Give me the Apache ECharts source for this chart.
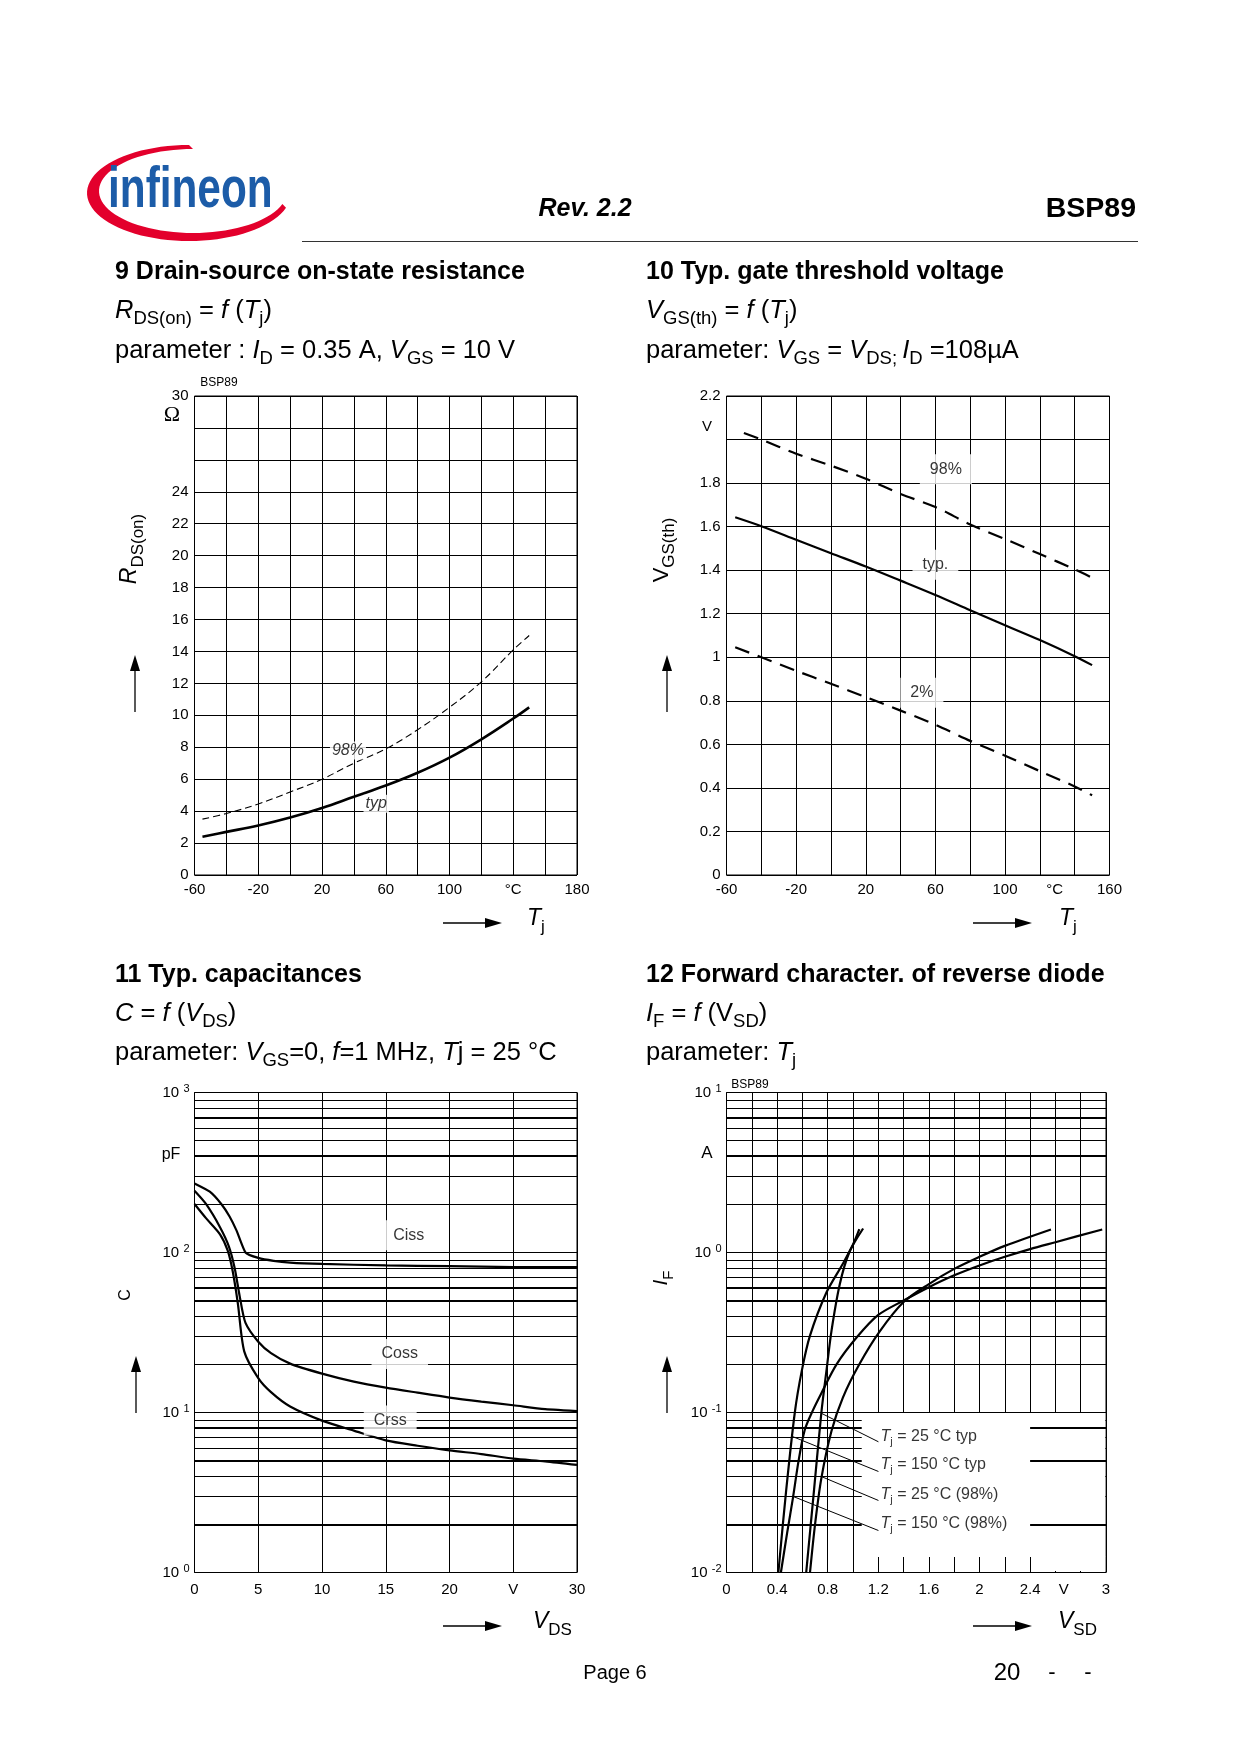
<!DOCTYPE html>
<html><head><meta charset="utf-8">
<script src="https://cdn.jsdelivr.net/npm/echarts@6.0.0/dist/echarts.min.js"></script>
<style>html,body{margin:0;padding:0;background:#fff;}#chart{width:1240px;height:1754px;}</style>
</head><body><div id="chart"></div>
<script>
// ================= DATA =================
// Fig 9  RDS(on) = f(Tj)
const rdsTemp = [-55, -40, -20, 0, 20, 40, 60, 80, 100, 120, 140, 150];
const rdsTyp  = [2.4, 2.7, 3.1, 3.6, 4.2, 4.9, 5.6, 6.4, 7.35, 8.5, 9.8, 10.5];
const rds98   = [3.5, 3.85, 4.45, 5.2, 6.0, 7.0, 7.9, 9.1, 10.5, 12.1, 14.1, 15.0];
const rdsXLabels = ['-60', '', '-20', '', '20', '', '60', '', '100', '', '°C', '', '180'];
const rdsYLabels = ['0', '2', '4', '6', '8', '10', '12', '14', '16', '18', '20', '22', '24', '', '', '30'];

// Fig 10  VGS(th) = f(Tj)
const vthTemp98 = [-50, -40, -20, 0, 20, 40, 60, 80, 100, 120, 140, 150];
const vth98     = [2.03, 2.0, 1.935, 1.88, 1.82, 1.75, 1.69, 1.61, 1.543, 1.474, 1.404, 1.365];
const vthTemp   = [-55, -40, -20, 0, 20, 40, 60, 80, 100, 120, 140, 150];
const vthTyp    = [1.643, 1.602, 1.54, 1.478, 1.417, 1.352, 1.286, 1.216, 1.147, 1.079, 1.005, 0.964];
const vth2      = [1.046, 1.0, 0.938, 0.878, 0.817, 0.755, 0.69, 0.616, 0.548, 0.477, 0.407, 0.366];
const vthXLabels = ['-60', '', '-20', '', '20', '', '60', '', '100', '', '{c|°C}', '160'];
const vthYLabels = ['0', '0.2', '0.4', '0.6', '0.8', '1', '1.2', '1.4', '1.6', '1.8', '', '2.2'];

// Fig 11  C = f(VDS)
const cissV = [0, 1.2, 2.1, 2.75, 3.3, 4.0, 5.0, 6.2, 7.5, 10, 15, 20, 25, 30];
const cissC = [270, 240, 201, 168, 137, 100, 92.5, 88.7, 86.5, 84.8, 83, 82.2, 81, 81];
const cossV = [0, 0.9, 2.0, 2.7, 3.15, 3.55, 4.0, 5.0, 6.0, 7.5, 10, 12.5, 15, 17.5, 20, 22.5, 25, 27.5, 30];
const cossC = [243, 201, 144, 109, 80, 53, 36.3, 27.7, 23.5, 20.2, 17.5, 15.6, 14.3, 13.3, 12.4, 11.7, 11.1, 10.5, 10.2];
const crssV = [0, 0.9, 2.0, 2.6, 3.0, 3.4, 3.9, 5.0, 6.0, 7.5, 10, 12.5, 15, 17.5, 20, 22.5, 25, 27.5, 30];
const crssC = [201, 164, 130, 103, 76, 48, 24.1, 16.4, 13.4, 10.9, 8.9, 7.7, 6.7, 6.2, 5.8, 5.5, 5.15, 4.95, 4.7];
const capXLabels = ['0', '5', '10', '15', '20', 'V', '30'];
const capMinor = [2, 3, 4, 5, 6, 7, 8, 9, 20, 30, 40, 50, 60, 70, 80, 90, 200, 300, 400, 500, 600, 700, 800, 900];
const capHeavy = [2, 5, 8, 50, 60, 400, 700];

// Fig 12  IF = f(VSD)
const if150TypV = [0.41, 0.47, 0.54, 0.595, 0.66, 0.79, 0.92, 1.0, 1.05];
const if150TypI = [0.01, 0.0316, 0.1, 0.182, 0.302, 0.562, 0.851, 1.122, 1.4];
const if25TypV  = [0.63, 0.69, 0.75, 0.79, 0.83, 0.895, 0.97, 1.08];
const if25TypI  = [0.01, 0.0316, 0.1, 0.182, 0.324, 0.631, 1.0, 1.413];
const if150MaxV = [0.43, 0.48, 0.526, 0.57, 0.618, 0.68, 0.75, 0.87, 1.03, 1.2, 1.4, 1.6, 1.8, 2.0, 2.2, 2.4, 2.6, 2.97];
const if150MaxI = [0.01, 0.0178, 0.0295, 0.05, 0.0776, 0.102, 0.132, 0.2, 0.295, 0.407, 0.501, 0.607, 0.72, 0.83, 0.94, 1.05, 1.16, 1.393];
const if25MaxV  = [0.66, 0.70, 0.75, 0.83, 0.92, 1.05, 1.21, 1.4, 1.6, 1.8, 2.0, 2.2, 2.565];
const if25MaxI  = [0.01, 0.02, 0.0389, 0.0767, 0.124, 0.2, 0.32, 0.49, 0.635, 0.79, 0.94, 1.10, 1.393];
const ifXLabels = ['0', '', '0.4', '', '0.8', '', '1.2', '', '1.6', '', '2', '', '2.4', '', '{c|V}', '3'];
const ifMinor = [0.02, 0.03, 0.04, 0.05, 0.06, 0.07, 0.08, 0.09, 0.2, 0.3, 0.4, 0.5, 0.6, 0.7, 0.8, 0.9, 2, 3, 4, 5, 6, 7, 8, 9];
const ifHeavy = [0.02, 0.05, 0.08, 0.5, 0.6, 4, 7];
const ifLegend = ['{i|T}{s|j}{n| = 25 °C typ}', '{i|T}{s|j}{n| = 150 °C typ}', '{i|T}{s|j}{n| = 25 °C (98%)}', '{i|T}{s|j}{n| = 150 °C (98%)}'];

// ================= HELPERS =================
const F = "'Liberation Sans', Arial, Helvetica, sans-serif";
const zip = (a, b) => a.map((x, i) => [x, b[i]]);
const idxFmt = (labels, min, step) => v => { const k = Math.round((v - min) / step); return labels[k] !== undefined ? labels[k] : ''; };
const expFmt = v => '{b|10 }{s|' + Math.round(Math.log10(v)) + '}';

function grid(left, top, width, height) {
  return { left, top, width, height, show: true, borderColor: '#000', borderWidth: 1, backgroundColor: 'transparent', outerBoundsMode: 'none', containLabel: false };
}
function axis(gi, extra, lbl) {
  return Object.assign({
    gridIndex: gi, type: 'value',
    axisLine: { show: false }, axisTick: { show: false },
    splitLine: { show: true, lineStyle: { color: '#000', width: 1 } },
    axisLabel: Object.assign({ color: '#000', fontSize: 15, fontFamily: F, margin: 7 }, lbl || {})
  }, extra);
}
const logLabel = { formatter: expFmt, margin: 5, rich: {
  b: { fontSize: 15, fontFamily: F, color: '#000', lineHeight: 18 },
  s: { fontSize: 11, fontFamily: F, color: '#000', lineHeight: 11, verticalAlign: 'top' } } };

function curve(gi, data, width, type, smooth, z) {
  return { type: 'line', xAxisIndex: gi, yAxisIndex: gi, data, symbol: 'none', smooth: smooth, z: z || 3, silent: true,
    lineStyle: { color: '#000', width: width, type: type || 'solid' } };
}
function labels(gi, items, lbl) {
  return { type: 'scatter', xAxisIndex: gi, yAxisIndex: gi, z: 10, symbolSize: 1, silent: true,
    itemStyle: { color: 'rgba(0,0,0,0)' },
    data: items.map(d => ({ value: [d[0], d[1]], name: d[2] })),
    label: Object.assign({ show: true, position: 'inside', formatter: p => p.name, color: '#000', fontFamily: F, fontSize: 16, backgroundColor: '#fff' }, lbl) };
}
function minorGrid(gi, vals, heavy) {
  return { type: 'line', xAxisIndex: gi, yAxisIndex: gi, data: [], silent: true, z: 1,
    markLine: { silent: true, symbol: 'none', z: 0.5, animation: false, label: { show: false },
      lineStyle: { color: '#000', width: 1, type: 'solid' },
      data: vals.map(v => ({ yAxis: v, lineStyle: { color: '#000', type: 'solid', width: heavy.indexOf(v) >= 0 ? 2 : 1 } })) } };
}

// ---------- page text ----------
function txt(x, y, text, size, o) {
  o = o || {};
  const sub = o.sub || Math.round(size * 0.72);
  const lh = size + 10;
  const fam = o.family || F;
  const base = { fontSize: size, fontFamily: fam, fill: o.color || '#000', fontWeight: o.bold ? 'bold' : 'normal', fontStyle: o.italic ? 'italic' : 'normal' };
  return { type: 'text', x, y, rotation: o.rot || 0, scaleX: o.scaleX || 1, z: 100,
    style: Object.assign({}, base, { text, align: o.align || 'left', verticalAlign: 'middle', lineHeight: lh,
      rich: {
        n: Object.assign({}, base, { lineHeight: lh }),
        i: Object.assign({}, base, { fontStyle: 'italic', lineHeight: lh }),
        s: Object.assign({}, base, { fontStyle: 'normal', fontSize: sub, lineHeight: sub, verticalAlign: 'bottom' })
      } }) };
}
function upArrow(x, tip, bottom) {
  return [
    { type: 'line', z: 100, shape: { x1: x, y1: bottom, x2: x, y2: tip + 8 }, style: { stroke: '#000', lineWidth: 1.3 } },
    { type: 'polygon', z: 100, shape: { points: [[x, tip], [x - 5, tip + 16], [x + 5, tip + 16]] }, style: { fill: '#000' } }
  ];
}
function rightArrow(x0, tip, y) {
  return [
    { type: 'line', z: 100, shape: { x1: x0, y1: y, x2: tip - 8, y2: y }, style: { stroke: '#000', lineWidth: 1.3 } },
    { type: 'polygon', z: 100, shape: { points: [[tip, y], [tip - 17, y - 5], [tip - 17, y + 5]] }, style: { fill: '#000' } }
  ];
}

const G = [];
// logo swoosh (decorative)
const sw = [];
for (let a = 270; a >= 18; a -= 4) { const r = a * Math.PI / 180; sw.push([189 + 102 * Math.cos(r), 193 + 48 * Math.sin(r)]); }
for (let a = 18; a <= 270; a += 4) { const r = a * Math.PI / 180; sw.push([193 + 94 * Math.cos(r), 191 + 42 * Math.sin(r)]); }
G.push({ type: 'polygon', z: 90, shape: { points: sw }, style: { fill: '#e3002c' } });
G.push(txt(108, 191, 'infineon', 58, { bold: true, color: '#1c5ca8', scaleX: 0.73 }));
G.push(txt(585, 209, 'Rev. 2.2', 25, { bold: true, italic: true, align: 'center' }));
G.push(txt(1136, 209, 'BSP89', 28.5, { bold: true, align: 'right' }));
G.push({ type: 'line', z: 100, shape: { x1: 302, y1: 241.5, x2: 1138, y2: 241.5 }, style: { stroke: '#333', lineWidth: 1 } });

// headings
const HS = 25.5, SS = 18.5;
G.push(txt(115, 272, '9 Drain-source on-state resistance', 25, { bold: true }));
G.push(txt(115, 311, '{i|R}{s|DS(on)}{n| = }{i|f}{n| (}{i|T}{s|j}{n|)}', HS, { sub: SS }));
G.push(txt(115, 351, '{n|parameter : }{i|I}{s|D}{n| = 0.35 A, }{i|V}{s|GS}{n| = 10 V}', HS, { sub: SS }));
G.push(txt(646, 272, '10 Typ. gate threshold voltage', 25, { bold: true }));
G.push(txt(646, 311, '{i|V}{s|GS(th)}{n| = }{i|f}{n| (}{i|T}{s|j}{n|)}', HS, { sub: SS }));
G.push(txt(646, 351, '{n|parameter: }{i|V}{s|GS}{n| = }{i|V}{s|DS; }{i|I}{s|D}{n| =108µA}', HS, { sub: SS }));
G.push(txt(115, 975, '11 Typ. capacitances', 25, { bold: true }));
G.push(txt(115, 1014, '{i|C}{n| = }{i|f}{n| (}{i|V}{s|DS}{n|)}', HS, { sub: SS }));
G.push(txt(115, 1053, '{n|parameter: }{i|V}{s|GS}{n|=0, }{i|f}{n|=1 MHz, }{i|T}{n|j = 25 °C}', HS, { sub: SS }));
G.push(txt(646, 975, '12 Forward character. of reverse diode', 25, { bold: true }));
G.push(txt(646, 1014, '{i|I}{s|F}{n| = }{i|f}{n| (V}{s|SD}{n|)}', HS, { sub: SS }));
G.push(txt(646, 1053, '{n|parameter: }{i|T}{s|j}', HS, { sub: SS }));

// chart 9 decorations
G.push(txt(219, 383, 'BSP89', 12, { align: 'center' }));
G.push(txt(172, 415, 'Ω', 22, { align: 'center', family: "'Liberation Serif', 'DejaVu Serif', serif" }));
G.push(txt(130, 549, '{i|R}{s|DS(on)}', 23, { align: 'center', rot: Math.PI / 2, sub: 17 }));
G.push(...upArrow(135, 655, 712));
G.push(...rightArrow(443, 502, 923));
G.push(txt(527, 919, '{i|T}{s|j}', 23, { sub: 17 }));
// chart 10 decorations
G.push(txt(707, 427, 'V', 15, { align: 'center' }));
G.push(txt(662, 550, '{n|V}{s|GS(th)}', 22, { align: 'center', rot: Math.PI / 2, sub: 17 }));
G.push(...upArrow(667, 655, 712));
G.push(...rightArrow(973, 1032, 923));
G.push(txt(1059, 919, '{i|T}{s|j}', 23, { sub: 17 }));
// chart 11 decorations
G.push(txt(171, 1155, 'pF', 16, { align: 'center' }));
G.push(txt(126, 1295, 'C', 16, { align: 'center', rot: Math.PI / 2 }));
G.push(...upArrow(136, 1356, 1413));
G.push(...rightArrow(443, 502, 1626));
G.push(txt(533, 1622, '{i|V}{s|DS}', 23, { sub: 17 }));
// chart 12 decorations
G.push(txt(750, 1085, 'BSP89', 12, { align: 'center' }));
G.push(txt(707, 1153, 'A', 17, { align: 'center' }));
G.push(txt(661, 1278, '{i|I}{s|F}', 21, { align: 'center', rot: Math.PI / 2, sub: 15 }));
G.push(...upArrow(667, 1356, 1413));
G.push(...rightArrow(973, 1032, 1626));
G.push(txt(1058, 1622, '{i|V}{s|SD}', 23, { sub: 17 }));
// footer
G.push(txt(615, 1673, 'Page 6', 20, { align: 'center' }));
G.push(txt(1007, 1673, '20', 24, { align: 'center' }));
G.push(txt(1052, 1673, '-', 22, { align: 'center' }));
G.push(txt(1088, 1673, '-', 22, { align: 'center' }));

// ================= OPTION =================
const legendRich = {
  n: { fontSize: 16, fontFamily: F, color: '#000', lineHeight: 22 },
  i: { fontSize: 16, fontFamily: F, fontStyle: 'italic', color: '#000', lineHeight: 22 },
  s: { fontSize: 11, fontFamily: F, color: '#000', lineHeight: 11, verticalAlign: 'bottom' }
};
const shiftRich = (pad) => ({ c: { fontSize: 15, fontFamily: F, color: '#000', padding: [0, pad, 0, 0] } });

const option = {
  animation: false,
  backgroundColor: '#fff',
  textStyle: { fontFamily: F },
  grid: [
    grid(194.5, 396, 382.5, 479),
    grid(726.5, 396, 383, 479),
    grid(194.5, 1092.5, 382.5, 480),
    grid(726.5, 1092.5, 379.5, 480)
  ],
  xAxis: [
    axis(0, { min: -60, max: 180, interval: 20 }, { formatter: idxFmt(rdsXLabels, -60, 20) }),
    axis(1, { min: -60, max: 160, interval: 20 }, { formatter: idxFmt(vthXLabels, -60, 20), rich: shiftRich(40) }),
    axis(2, { min: 0, max: 30, interval: 5 }, { formatter: idxFmt(capXLabels, 0, 5), margin: 10 }),
    axis(3, { min: 0, max: 3, interval: 0.2 }, { formatter: idxFmt(ifXLabels, 0, 0.2), margin: 10, rich: shiftRich(34) })
  ],
  yAxis: [
    axis(0, { min: 0, max: 30, interval: 2 }, { formatter: idxFmt(rdsYLabels, 0, 2), margin: 6 }),
    axis(1, { min: 0, max: 2.2, interval: 0.2 }, { formatter: idxFmt(vthYLabels, 0, 0.2), margin: 6 }),
    axis(2, { type: 'log', logBase: 10, min: 1, max: 1000 }, logLabel),
    axis(3, { type: 'log', logBase: 10, min: 0.01, max: 10 }, logLabel)
  ],
  series: [
    // chart 9
    curve(0, zip(rdsTemp, rdsTyp), 2.6, 'solid', 0.4),
    curve(0, zip(rdsTemp, rds98), 1.1, [7, 4], 0.4),
    labels(0, [[36.3, 7.8, '98%'], [54, 4.46, 'typ']], { fontStyle: 'italic', padding: [1, 2] }),
    // chart 10
    curve(1, zip(vthTemp98, vth98), 2.2, [15, 9], 0.3),
    curve(1, zip(vthTemp, vthTyp), 2.2, 'solid', 0.3),
    curve(1, zip(vthTemp, vth2), 2.2, [15, 9], 0.3),
    labels(1, [[66, 1.863, '98%'], [60, 1.425, 'typ.'], [52.2, 0.837, '2%']], { padding: [7, 10] }),
    // chart 11
    minorGrid(2, capMinor, capHeavy),
    curve(2, zip(cissV, cissC), 2.2, 'solid', 0.15),
    curve(2, zip(cossV, cossC), 2.2, 'solid', 0.25),
    curve(2, zip(crssV, crssC), 2.2, 'solid', 0.25),
    labels(2, [[16.8, 128, 'Ciss'], [16.1, 23.2, 'Coss'], [15.35, 8.9, 'Crss']], { padding: [7, 10] }),
    // chart 12
    Object.assign(minorGrid(3, ifMinor, ifHeavy), {
      markArea: { silent: true, z: 1, itemStyle: { color: '#fff' }, label: { show: false },
        data: [
          [{ coord: [1.069, 0.0125] }, { coord: [2.994, 0.0993] }],
          [{ coord: [2.42, 0.0102] }, { coord: [2.994, 0.0126] }]
        ] } }),
    { type: 'line', xAxisIndex: 3, yAxisIndex: 3, data: [], silent: true, z: 1,
      markLine: { silent: true, symbol: 'none', z: 1.5, label: { show: false }, lineStyle: { color: '#000', width: 2, type: 'solid' },
        data: [0.08, 0.05, 0.02].map(v => [{ coord: [2.4, v] }, { coord: [3, v] }]) } },
    curve(3, zip(if150TypV, if150TypI), 2.2, 'solid', 0.3),
    curve(3, zip(if25TypV, if25TypI), 2.2, 'solid', 0.3),
    curve(3, zip(if150MaxV, if150MaxI), 2.2, 'solid', 0.3),
    curve(3, zip(if25MaxV, if25MaxI), 2.2, 'solid', 0.3),
    curve(3, [[0.753, 0.0986], [1.201, 0.0656]], 1, 'solid', false),
    curve(3, [[0.521, 0.0708], [1.201, 0.0428]], 1, 'solid', false),
    curve(3, [[0.753, 0.0397], [1.201, 0.0282]], 1, 'solid', false),
    curve(3, [[0.521, 0.030], [1.201, 0.0183]], 1, 'solid', false),
    labels(3, [[1.214, 0.0708, ifLegend[0]], [1.214, 0.047, ifLegend[1]], [1.214, 0.0308, ifLegend[2]], [1.214, 0.0202, ifLegend[3]]],
      { position: 'right', distance: 0, backgroundColor: 'transparent', rich: legendRich })
  ],
  graphic: { elements: G }
};

const chart = echarts.init(document.getElementById('chart'), null, { renderer: 'canvas' });
chart.setOption(option);
</script>
</body></html>
